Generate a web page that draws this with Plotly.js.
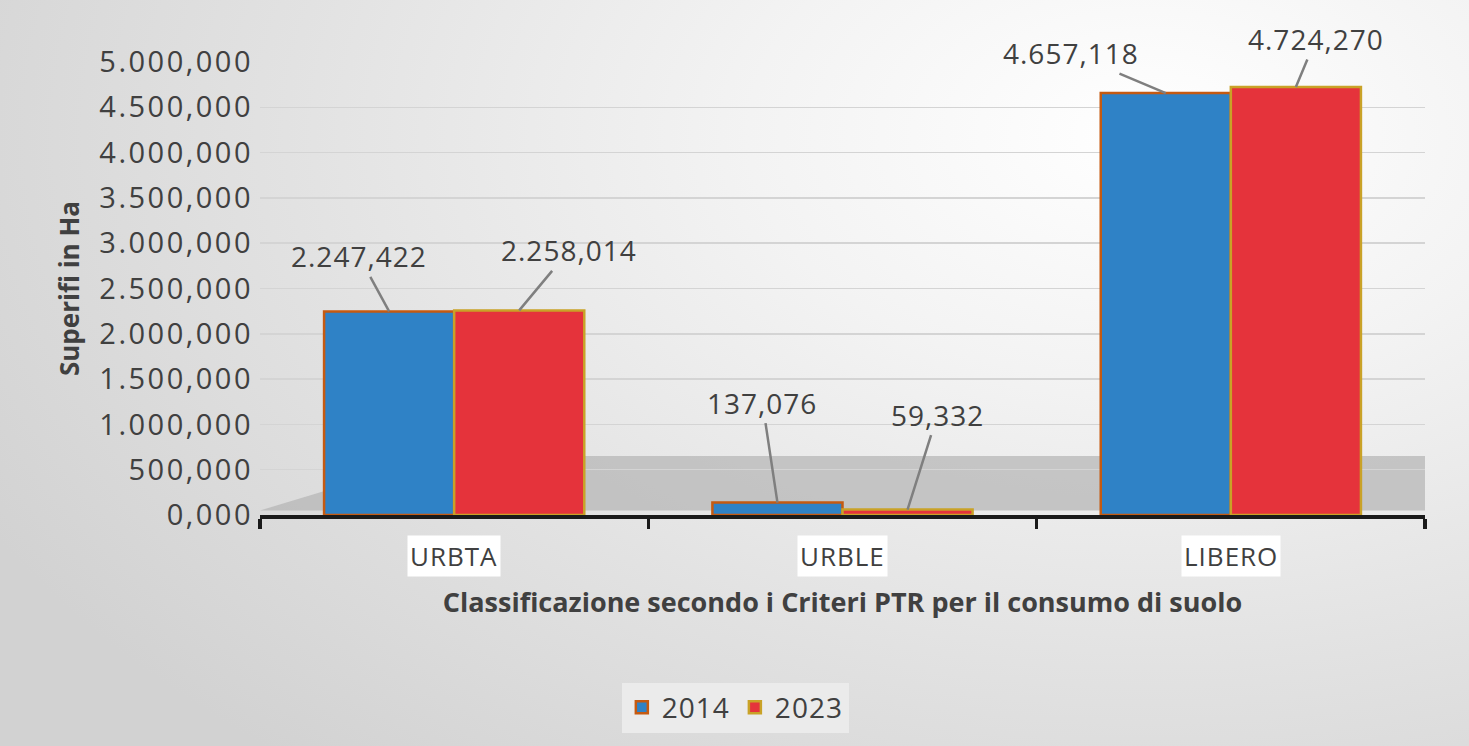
<!DOCTYPE html>
<html>
<head>
<meta charset="utf-8">
<script src="https://cdn.plot.ly/plotly-3.0.1.min.js"></script>
<style>
  html, body { margin: 0; padding: 0; }
  body {
    width: 1469px; height: 746px; overflow: hidden;
    background: radial-gradient(ellipse 90% 110% at 78% 18%, #ffffff 0%, #f3f3f3 30%, #e2e2e2 65%, #d2d2d2 100%);
  }
  #chart { width: 1469px; height: 746px; }
  .ytick text { letter-spacing: 2.5px; }
  .annotation-text { letter-spacing: 1px; }
  .legendtext { letter-spacing: 1px; }
</style>
</head>
<body>
<div id="chart"></div>
<script>
// ---- data ----
const categories = ["URBTA", "URBLE", "LIBERO"];
const seriesNames = ["2014", "2023"];
const values2014 = [2247.422, 137.076, 4657.118];
const values2023 = [2258.014, 59.332, 4724.270];
const yTickValues = [0, 500, 1000, 1500, 2000, 2500, 3000, 3500, 4000, 4500, 5000];

// ---- styles ----
const bargap = 0.33;
const textColor = "#404040";
const fontFamily = "Open Sans, sans-serif";
const fillColors = ["#2f82c6", "#e5333b"];
const lineColors = ["#c55a11", "#c9a227"];

const traces = [values2014, values2023].map((vals, i) => ({
  type: "bar",
  name: seriesNames[i],
  x: categories,
  y: vals,
  marker: { color: fillColors[i], line: { color: lineColors[i], width: 2.5 } },
  hoverinfo: "x+y+name"
}));

// label offsets (pixels) for leader-line callouts
const labelOffsets = [
  [[-30, -55], [-15, -100], [-95, -40]],
  [[50, -60], [30, -95], [20, -48]]
];
const barW = (1 - bargap) / 2;
const fmt = v => {
  const s = v.toFixed(3);
  const [intPart, dec] = s.split(".");
  return intPart.replace(/\B(?=(\d{3})+(?!\d))/g, ".") + "," + dec;
};

const annotations = [];
[values2014, values2023].forEach((vals, si) => {
  vals.forEach((v, ci) => {
    const off = (si === 0 ? -1 : 1) * barW / 2;
    annotations.push({
      x: ci + off, y: v, xref: "x", yref: "y",
      text: fmt(v),
      showarrow: true, arrowhead: 0, arrowwidth: 2.5, arrowcolor: "#7f7f7f",
      ax: labelOffsets[si][ci][0], ay: labelOffsets[si][ci][1],
      font: { family: fontFamily, size: 28, color: textColor }
    });
  });
});
// category labels with white boxes
categories.forEach((c, ci) => {
  annotations.push({
    x: ci, y: -0.09, xref: "x", yref: "paper", yanchor: "middle",
    text: c, showarrow: false, bgcolor: "#ffffff", borderpad: 2,
    font: { family: fontFamily, size: 26, color: textColor }
  });
});

const layout = {
  width: 1469, height: 746,
  paper_bgcolor: "rgba(0,0,0,0)",
  plot_bgcolor: "rgba(0,0,0,0)",
  separators: ",.",
  margin: { l: 260, r: 44, t: 62, b: 231 },
  barmode: "group",
  bargap: bargap,
  bargroupgap: 0,
  font: { family: fontFamily, color: textColor },
  xaxis: {
    type: "category",
    showticklabels: false,
    showline: true, linecolor: "#1a1a1a", linewidth: 3.5,
    ticks: "outside", tickson: "boundaries", ticklen: 10, tickwidth: 3.5, tickcolor: "#1a1a1a",
    showgrid: false,
    title: {
      text: "<b>Classificazione secondo i Criteri PTR per il consumo di suolo</b>",
      font: { family: fontFamily, size: 27, color: textColor },
      standoff: 76
    }
  },
  yaxis: {
    range: [0, 5000],
    tickvals: yTickValues,
    tickformat: ",.3f",
    tickfont: { family: fontFamily, size: 29, color: textColor },
    gridcolor: "#d4d4d4", gridwidth: 1.5,
    zeroline: false, showline: false,
    ticks: "", ticklabelstandoff: 6,
    title: {
      text: "<b>Superifi in Ha</b>",
      font: { family: fontFamily, size: 26, color: textColor },
      standoff: 12
    }
  },
  showlegend: true,
  legend: {
    orientation: "h",
    x: 0.408, xanchor: "center",
    y: -0.425, yanchor: "middle",
    bgcolor: "rgba(236,236,236,0.9)",
    font: { family: fontFamily, size: 28, color: textColor },
    itemwidth: 30,
    traceorder: "normal"
  },
  shapes: [{
    type: "path", xref: "paper", yref: "paper", layer: "below",
    path: "M 0,0.01 L 0.155,0.13 L 1,0.13 L 1,0.01 Z",
    fillcolor: "rgba(180,180,180,0.7)", line: { width: 0 }
  }],
  annotations: annotations
};

Plotly.newPlot("chart", traces, layout, { displayModeBar: false, staticPlot: true });
</script>
</body>
</html>
